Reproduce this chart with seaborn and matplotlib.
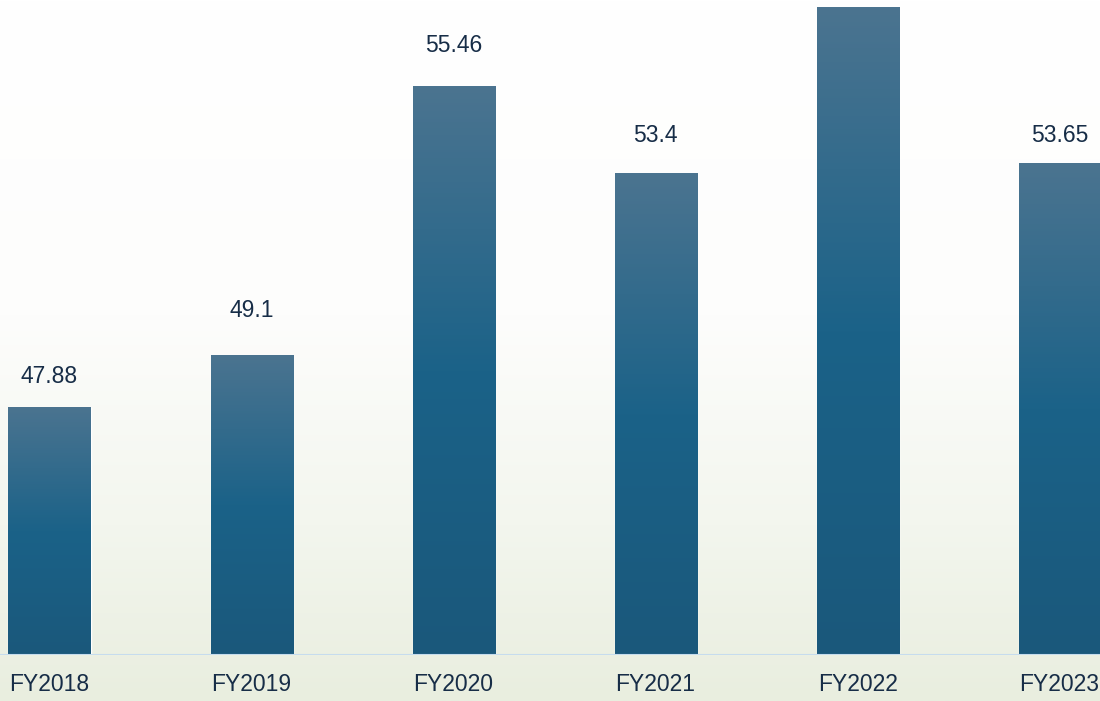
import numpy as np
import pandas as pd
import matplotlib
matplotlib.use("Agg")
import matplotlib.pyplot as plt
from matplotlib.colors import LinearSegmentedColormap
import seaborn as sns

# Annual values by fiscal year
years = ["FY2018", "FY2019", "FY2020", "FY2021", "FY2022", "FY2023"]
values = [47.88, 49.1, 55.46, 53.4, 57.33, 53.65]
value_labels = ["47.88", "49.1", "55.46", "53.4", "", "53.65"]

# Distance (pixels) from bar top to the centre of each value label
label_lift_px = [30.5, 44, 40.5, 38, 0, 27.5]

df = pd.DataFrame({"year": years, "value": values})

sns.set_theme(style="white")
plt.rcParams["font.family"] = ["Liberation Sans", "DejaVu Sans"]

text_color = "#172d47"
y_floor, y_ceil = 42, 57.5

fig = plt.figure(figsize=(11, 7.01), dpi=100)

# Soft page background: white on top, pale green toward the bottom
bg = fig.add_axes([0, 0, 1, 1], zorder=0)
bg.axis("off")
bg_cmap = LinearSegmentedColormap.from_list(
    "bg", [(0.0, "#ffffff"), (0.45, "#fdfdfc"), (0.75, "#f3f6ee"), (1.0, "#e9eedf")]
)
grad = np.linspace(0, 1, 256).reshape(-1, 1)
bg.imshow(grad, aspect="auto", cmap=bg_cmap, extent=[0, 1, 0, 1], origin="upper")
bg.set_xlim(0, 1)
bg.set_ylim(0, 1)

ax = fig.add_axes([0, (701 - 655) / 701, 1, 655 / 701], zorder=1)
ax.patch.set_alpha(0)

sns.barplot(data=df, x="year", y="value", ax=ax, width=0.406,
            color="#1b6288", saturation=1, zorder=2)

# Vertical gradient fill for each bar (visible part, from the floor up)
bar_cmap = LinearSegmentedColormap.from_list(
    "bar", [(0.0, "#4b7490"), (0.5, "#1b6288"), (1.0, "#1a587b")]
)
for patch in ax.patches:
    x0, w = patch.get_x(), patch.get_width()
    top = patch.get_y() + patch.get_height()
    img = ax.imshow(grad, aspect="auto", cmap=bar_cmap, origin="upper",
                    extent=[x0, x0 + w, y_floor, top], zorder=3)
    img.set_clip_path(patch)

ax.set_xlim(-0.245, 5.2)
ax.set_ylim(y_floor, y_ceil)

# Value labels above bars
px_to_pt = 72 / fig.dpi
for i, (v, lab, lift) in enumerate(zip(values, value_labels, label_lift_px)):
    if lab:
        ax.annotate(lab, (i, v), xytext=(0, lift * px_to_pt),
                    textcoords="offset points", ha="center", va="center",
                    fontsize=16.5, color=text_color, zorder=4)

# Baseline
ax.axhline(y_floor, color="#c6dcee", lw=1.5, zorder=4)

for s in ax.spines.values():
    s.set_visible(False)
ax.set_xlabel("")
ax.set_ylabel("")
ax.set_yticks([])
ax.set_xticks(range(len(years)), labels=years)
ax.tick_params(axis="x", length=0, pad=13, labelsize=16.5, labelcolor=text_color,
               bottom=True, labelbottom=True)
ax.grid(False)

fig.savefig("out.png", dpi=100)
